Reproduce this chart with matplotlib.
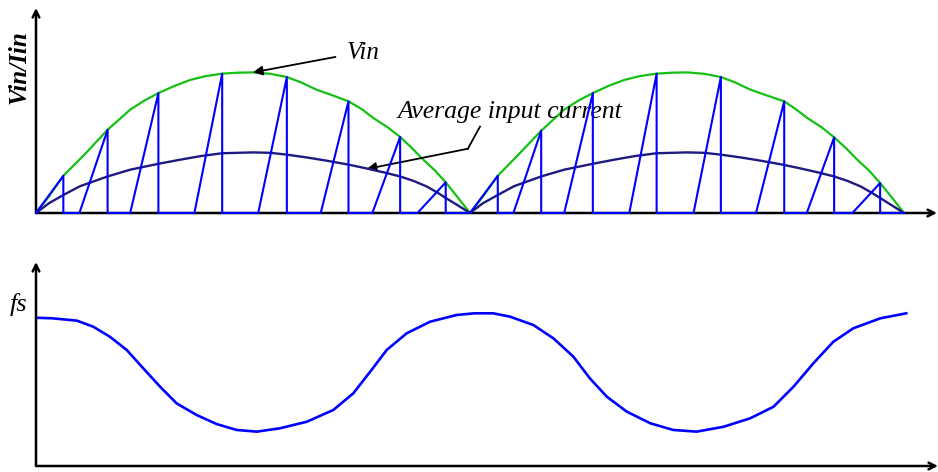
import numpy as np
import matplotlib.pyplot as plt

# time axis in half-line-cycle units (one arc = 0..10)
t_vin = [0, 0.3, 0.63, 1.1, 1.65, 2.17, 2.5, 2.82, 3.2, 3.55, 3.9, 4.29, 4.65, 5.0, 5.4,
         5.78, 6.1, 6.47, 6.85, 7.2, 7.5, 7.77, 8.1, 8.39, 8.65, 8.92, 9.2, 9.44, 9.72, 10.0,
         10.3, 10.64, 11.1, 11.64, 12.17, 12.5, 12.83, 13.2, 13.55, 13.9, 14.3, 14.65, 15.0,
         15.4, 15.78, 16.1, 16.47, 16.85, 17.24, 17.5, 17.77, 18.1, 18.39, 18.65, 18.92,
         19.2, 19.45, 19.72, 20.0]
vin = [0, 0.118, 0.265, 0.41, 0.592, 0.735, 0.80, 0.853, 0.905, 0.946, 0.973, 0.991, 0.998,
       1.0, 0.99, 0.967, 0.93, 0.876, 0.835, 0.794, 0.74, 0.676, 0.61, 0.541, 0.465, 0.38,
       0.30, 0.218, 0.11, 0,
       0.118, 0.265, 0.41, 0.585, 0.735, 0.80, 0.853, 0.905, 0.946, 0.973, 0.991, 0.998,
       1.0, 0.99, 0.967, 0.93, 0.876, 0.835, 0.794, 0.74, 0.676, 0.61, 0.538, 0.465, 0.38,
       0.30, 0.213, 0.11, 0]

t_iavg = [0, 0.3, 0.63, 1.01, 1.65, 2.17, 2.82, 3.32, 3.8, 4.29, 5.0, 5.4, 5.78, 6.24, 6.7,
          7.2, 7.6, 8.0, 8.39, 8.7, 9.0, 9.25, 9.44, 9.69, 10.0,
          10.3, 10.64, 11.01, 11.64, 12.17, 12.83, 13.32, 13.8, 14.3, 15.0, 15.4, 15.78, 16.24,
          16.7, 17.2, 17.6, 18.0, 18.39, 18.7, 19.0, 19.25, 19.45, 19.69, 20.0]
iavg = [0, 0.07, 0.128, 0.19, 0.26, 0.308, 0.35, 0.379, 0.405, 0.425, 0.431, 0.428, 0.415,
        0.395, 0.372, 0.344, 0.318, 0.29, 0.26, 0.228, 0.189, 0.145, 0.107, 0.06, 0,
        0.07, 0.128, 0.19, 0.26, 0.308, 0.35, 0.379, 0.405, 0.425, 0.431, 0.428, 0.415,
        0.395, 0.372, 0.344, 0.318, 0.29, 0.26, 0.228, 0.189, 0.145, 0.107, 0.06, 0]

# inductor current triangles: rise start, peak time, peak value
sw_start = [0, 1.00, 2.17, 3.65, 5.12, 6.56, 7.75, 8.79,
            10.0, 11.00, 12.17, 13.67, 15.15, 16.59, 17.76, 18.81]
sw_peak_t = [0.63, 1.65, 2.82, 4.29, 5.78, 7.20, 8.39, 9.44,
             10.64, 11.64, 12.83, 14.30, 15.78, 17.24, 18.39, 19.45]
sw_peak_v = [0.265, 0.592, 0.853, 0.991, 0.967, 0.794, 0.541, 0.218,
             0.265, 0.585, 0.853, 0.991, 0.967, 0.794, 0.538, 0.213]
sw_end = 20.0

t_fs = [0, 0.38, 0.94, 1.32, 1.70, 2.09, 2.47, 2.86, 3.24, 3.70, 4.16, 4.62, 5.09, 5.62,
        6.24, 6.85, 7.31, 7.70, 8.08, 8.54, 9.08, 9.69, 10.1, 10.53, 10.92, 11.46, 11.92,
        12.38, 12.76, 13.15, 13.61, 14.15, 14.68, 15.22, 15.84, 16.45, 16.99, 17.45, 17.91,
        18.37, 18.83, 19.45, 20.05]
fs = [0.971, 0.967, 0.952, 0.912, 0.847, 0.760, 0.640, 0.519, 0.410, 0.334, 0.275, 0.236,
      0.225, 0.247, 0.290, 0.367, 0.476, 0.618, 0.760, 0.869, 0.945, 0.989, 1.0, 1.0, 0.978,
      0.923, 0.836, 0.716, 0.574, 0.454, 0.356, 0.280, 0.236, 0.225, 0.257, 0.312, 0.388,
      0.519, 0.673, 0.814, 0.902, 0.967, 1.0]

W, H = 938, 472
fig = plt.figure(figsize=(W / 100, H / 100), dpi=100)
serif = 'Liberation Serif'

# top panel
ax1 = fig.add_axes([36 / W, (H - 213) / H, (937 - 36) / W, 205 / H])
ax1.set_xlim(0, 20.76)
ax1.set_ylim(0, 205 / 140.6)

# sawtooth path
sx, sy = [], []
for i in range(len(sw_start)):
    sx += [sw_start[i], sw_peak_t[i], sw_peak_t[i]]
    sy += [0, sw_peak_v[i], 0]
    nxt = sw_start[i + 1] if i + 1 < len(sw_start) else sw_end
    sx.append(nxt)
    sy.append(0)

ax1.plot(t_vin, vin, color='#14c014', lw=1.6, zorder=3)
ax1.plot(t_iavg, iavg, color='#1e1a80', lw=1.7, zorder=4)
ax1.plot(sx, sy, color='#0000ff', lw=1.5, zorder=5, clip_on=False)

# bottom panel
ax2 = fig.add_axes([36 / W, (H - 466) / H, (938 - 36) / W, 204 / H])
ax2.set_xlim(0, 20.78)
ax2.set_ylim(0, 204 / 152.7)
ax2.plot(t_fs, fs, color='#0000ff', lw=1.9)

for ax in (ax1, ax2):
    for s in ax.spines.values():
        s.set_visible(False)
    ax.set_xticks([])
    ax.set_yticks([])
    ax.patch.set_alpha(0)
    ax.annotate('', xy=(1, 0), xytext=(0, 0), xycoords='axes fraction',
                arrowprops=dict(arrowstyle='->', lw=1.8, color='black',
                                shrinkA=0, shrinkB=0, mutation_scale=12), zorder=2)
    ax.annotate('', xy=(0, 1), xytext=(0, 0), xycoords='axes fraction',
                arrowprops=dict(arrowstyle='->', lw=1.8, color='black',
                                shrinkA=0, shrinkB=0, mutation_scale=12), zorder=2)

# labels
fig.text(19.5 / W, 1 - 67 / H, 'Vin/Iin', rotation=90, ha='center', va='center',
         family=serif, style='italic', weight='bold', fontsize=18)
fig.text(19 / W, 1 - 305 / H, 'fs', ha='center', va='center',
         family=serif, style='italic', fontsize=19)

ax1.annotate('', xy=(5.0, 1.0), xytext=(6.9, 1.11),
             arrowprops=dict(arrowstyle='-|>', color='black', lw=1.3,
                             shrinkA=0, shrinkB=0, mutation_scale=14))
ax1.text(7.15, 1.14, 'Vin', ha='left', va='center', family=serif, style='italic',
         fontsize=18)

ax1.plot([10.23, 9.95], [0.614, 0.457], color='black', lw=1.3)
ax1.annotate('', xy=(7.62, 0.313), xytext=(9.95, 0.457),
             arrowprops=dict(arrowstyle='-|>', color='black', lw=1.3,
                             shrinkA=0, shrinkB=0, mutation_scale=14))
ax1.text(10.92, 0.72, 'Average input current', ha='center', va='center',
         family=serif, style='italic', fontsize=18.5)

fig.savefig('out.png', dpi=100)
